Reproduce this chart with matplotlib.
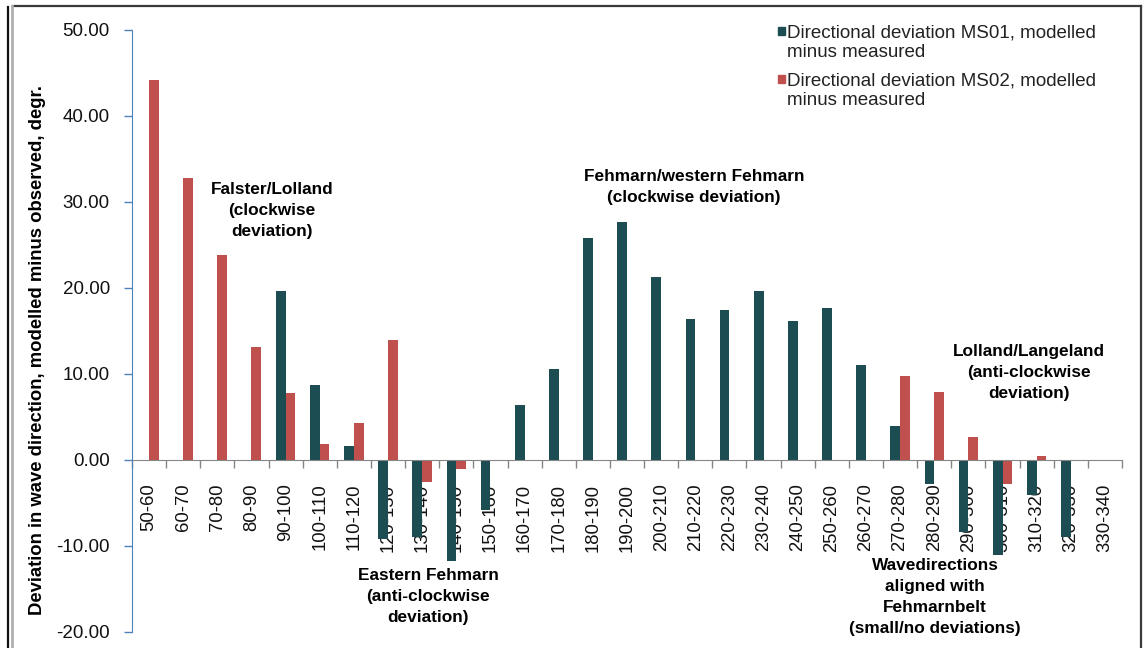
import numpy as np
import matplotlib.pyplot as plt
from matplotlib.lines import Line2D
from matplotlib.patches import Rectangle

plt.rcParams['font.family'] = ['Liberation Sans', 'DejaVu Sans']

# wave direction sectors, degrees
sectors = ["50-60", "60-70", "70-80", "80-90", "90-100", "100-110", "110-120",
           "120-130", "130-140", "140-150", "150-160", "160-170", "170-180",
           "180-190", "190-200", "200-210", "210-220", "220-230", "230-240",
           "240-250", "250-260", "260-270", "270-280", "280-290", "290-300",
           "300-310", "310-320", "320-330", "330-340"]

# modelled minus measured deviation, degrees
ms01 = [0, 0, 0, 0, 19.7, 8.7, 1.6, -9.2, -8.9, -11.8, -5.8, 6.4, 10.6,
        25.8, 27.7, 21.3, 16.4, 17.4, 19.7, 16.2, 17.7, 11.0, 4.0, -2.8,
        -8.4, -11.1, -4.1, -9.0, 0]
ms02 = [44.2, 32.8, 23.8, 13.1, 7.8, 1.9, 4.3, 14.0, -2.6, -1.0, 0, 0, 0,
        0, 0, 0, 0, 0, 0, 0, 0, 0, 9.8, 7.9, 2.7, -2.8, 0.5, 0, 0]

labels = ["Directional deviation MS01, modelled\nminus measured",
          "Directional deviation MS02, modelled\nminus measured"]

teal = "#1b4d52"
red = "#c0504d"

W, H = 1146, 648
fig = plt.figure(figsize=(W / 100, H / 100), dpi=100)
ax = fig.add_axes([132 / W, 1 - 632 / H, (1122 - 132) / W, (632 - 30) / H])

x = np.arange(len(sectors))
bw = 0.285
ax.bar(x - bw / 2, ms01, bw, color=teal, linewidth=0, zorder=2)
ax.bar(x + bw / 2, ms02, bw, color=red, linewidth=0, zorder=2)

ax.set_xlim(-0.5, len(sectors) - 0.5)
ax.set_ylim(-20, 50)
ax.set_yticks(np.arange(-20, 51, 10))
ax.set_yticklabels([f"{v:.2f}" for v in np.arange(-20, 51, 10)])
ax.tick_params(axis='y', direction='out', length=6, width=1, color="#4f81bd",
               labelsize=13.5, pad=10, labelcolor="#111111")

# category boundaries carry the tick marks, centres carry the labels
ax.set_xticks(np.arange(-0.5, len(sectors), 1.0))
ax.set_xticklabels([])
ax.tick_params(axis='x', which='major', direction='out', length=6, width=1,
               color="#868686")
ax.set_xticks(x, minor=True)
ax.set_xticklabels(sectors, minor=True)
ax.tick_params(axis='x', which='minor', length=0, pad=17, labelrotation=90,
               labelsize=13.3, labelcolor="#111111")

for s in ["top", "right"]:
    ax.spines[s].set_visible(False)
ax.spines["left"].set_color("#4f81bd")
ax.spines["bottom"].set_position(("data", 0))
ax.spines["bottom"].set_color("#868686")
ax.spines["bottom"].set_zorder(3)

fig.text(38 / W, 1 - 350 / H,
         "Deviation in wave direction, modelled minus observed, degr.",
         rotation=90, ha="center", va="center", fontsize=13.3,
         fontweight="bold")

# legend drawn as square markers plus wrapped text
for (cy, lab, col) in [(31, labels[0], teal), (79, labels[1], red)]:
    fig.patches.append(Rectangle((778 / W, 1 - (cy + 3.5) / H), 7 / W, 7 / H,
                                 transform=fig.transFigure, color=col,
                                 figure=fig))
    fig.text(787 / W, 1 - (cy - 7) / H, lab, ha="left", va="top",
             fontsize=13.5, color="#222222", linespacing=1.25)

notes = [
    (272, 190, "Falster/Lolland\n(clockwise\ndeviation)"),
    (694, 177, "Fehmarn/western Fehmarn\n(clockwise deviation)"),
    (428, 576, "Eastern Fehmarn\n(anti-clockwise\ndeviation)"),
    (1029, 352, "Lolland/Langeland\n(anti-clockwise\ndeviation)"),
    (935, 566, "Wavedirections\naligned with\nFehmarnbelt\n(small/no deviations)"),
]
for nx, ny, txt in notes:
    fig.text(nx / W, 1 - (ny - 8) / H, txt, ha="center", va="top",
             fontsize=12.4, fontweight="bold", linespacing=1.5)

# chart frame
frame = [((13, 1141), (5.5, 5.5), "#3a3a3a", 1.6),
         ((1141, 1141), (5.5, 648), "#3a3a3a", 1.6),
         ((8, 8), (7, 648), "#111111", 1.6),
         ((12, 12), (5.5, 648), "#b0b0b0", 2.0)]
for xs, ys, c, lw in frame:
    fig.add_artist(Line2D([v / W for v in xs], [1 - v / H for v in ys],
                          transform=fig.transFigure, color=c, linewidth=lw))

fig.savefig("out.png", dpi=100)
